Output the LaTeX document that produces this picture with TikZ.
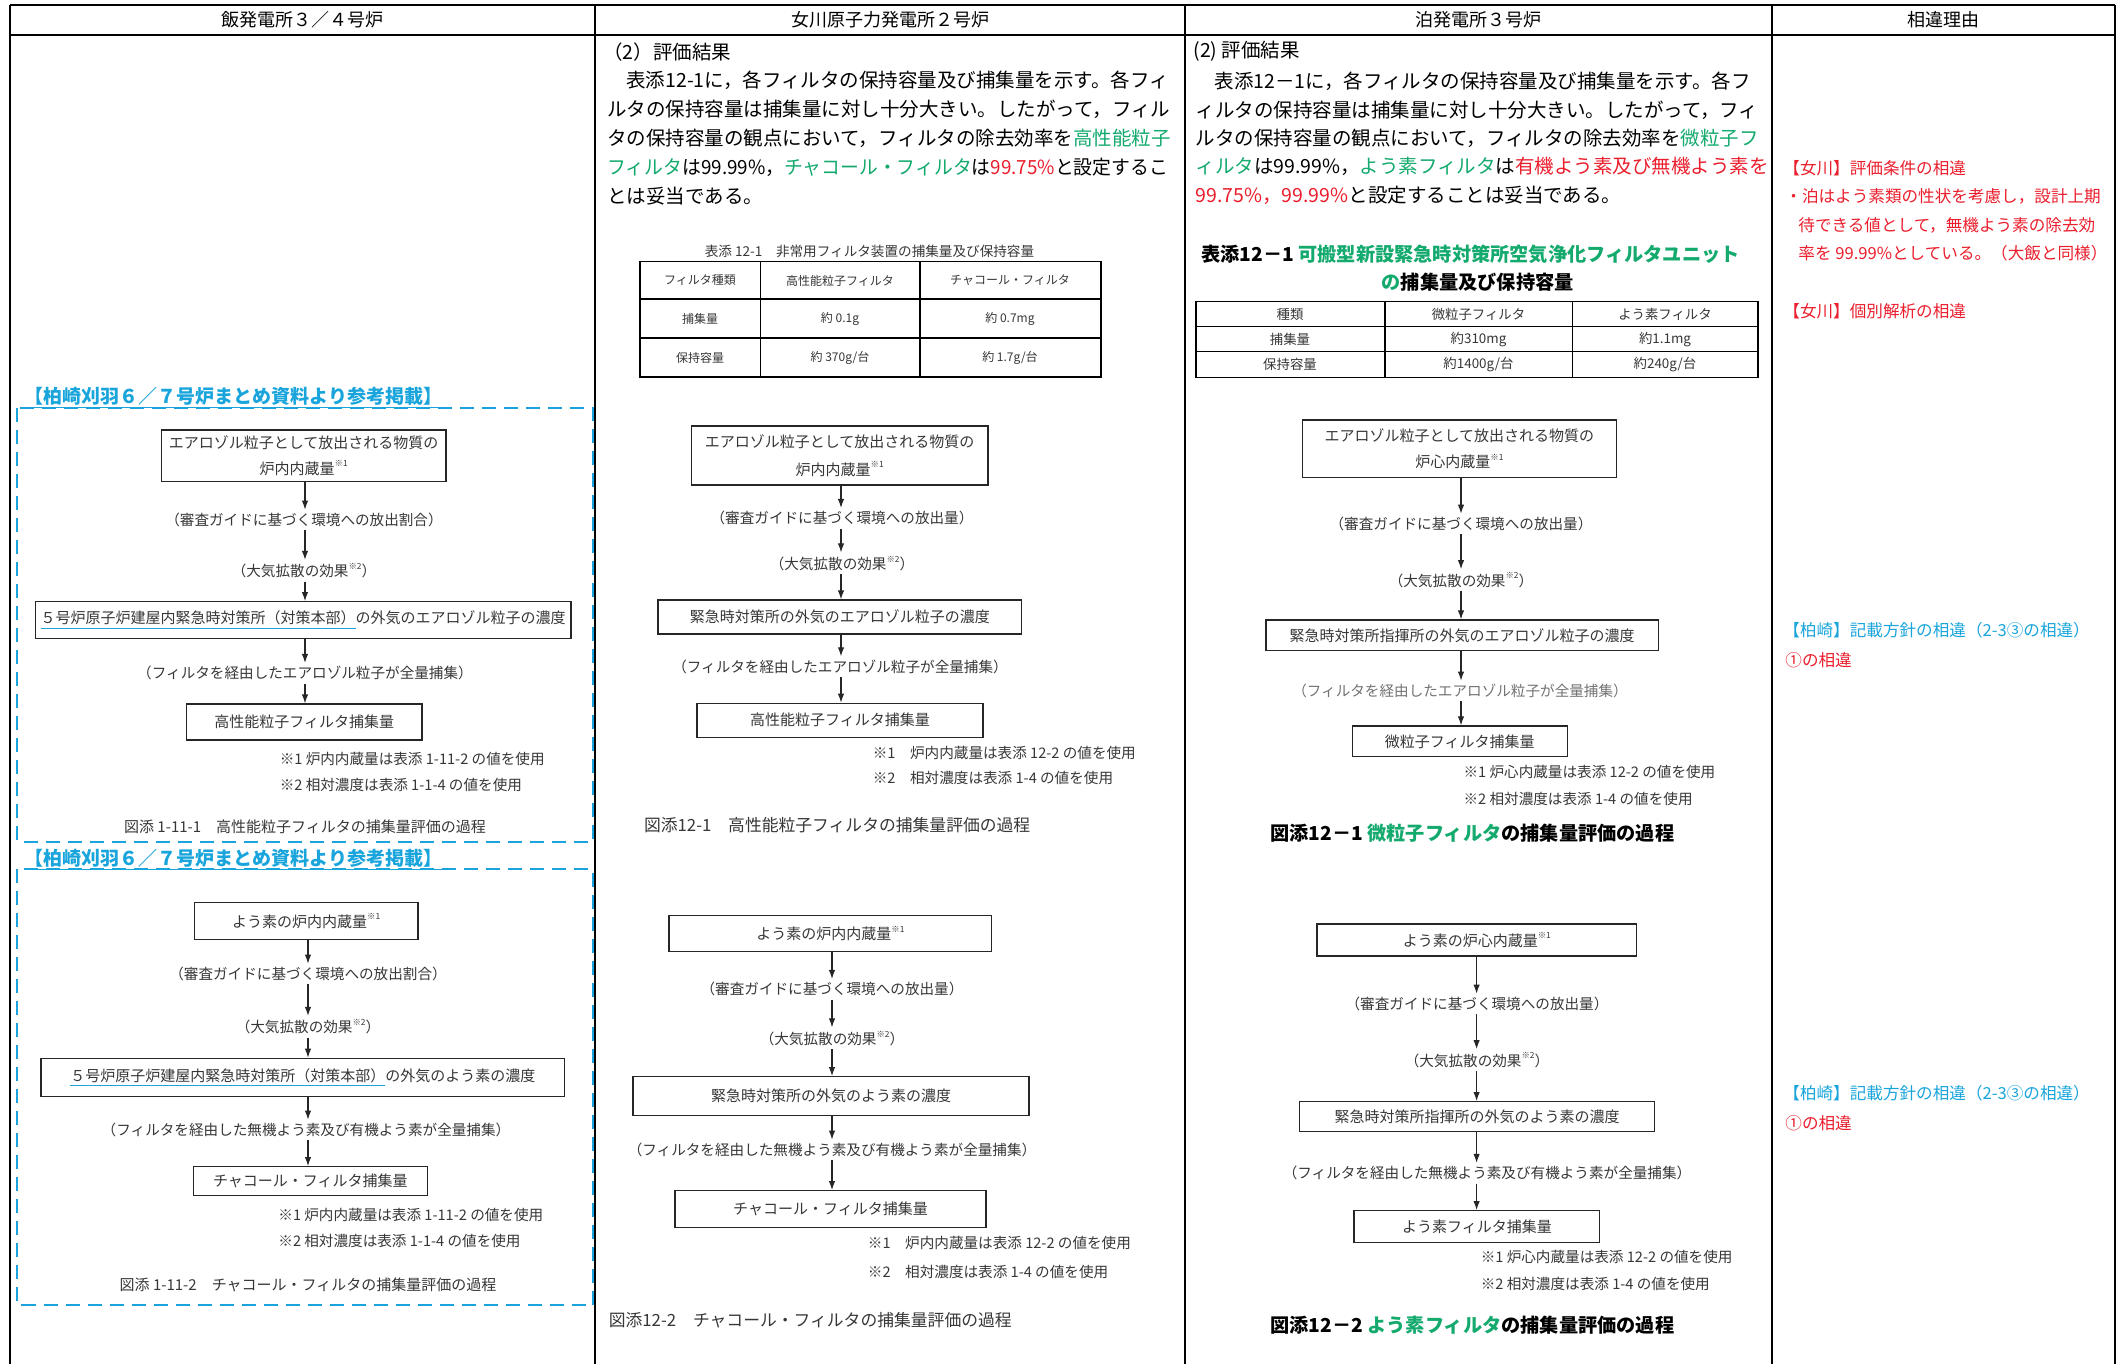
\documentclass[tikz,border=0pt]{standalone}
\usepackage{fontspec}
\usepackage{graphicx}
\setmainfont{Noto Sans CJK JP}
\usetikzlibrary{arrows.meta}
\definecolor{kgreen}{RGB}{20,170,110}
\definecolor{kred}{RGB}{235,30,45}
\definecolor{kcyan}{RGB}{25,165,220}
\definecolor{kgray}{RGB}{55,55,55}
\newcommand\fsz[1]{\fontsize{#1}{#1}\selectfont}
\newcommand\sups[1]{\raisebox{0.5em}{\fontsize{4.2}{4.2}\selectfont #1}}
\newcommand\kul[1]{\textcolor{kcyan}{\underline{\textcolor{kgray}{#1}}}}
\tikzset{
  tline/.style={line width=1pt, black},
  fbox/.style={draw=black!85, line width=0.6pt, inner sep=0pt, font=\fsz{7.5}, text=kgray},
  fbox2/.style={fbox, align=center, font=\fontsize{7.5}{12.8}\selectfont},
  lab/.style={inner sep=1.5pt, font=\fsz{7.3}, text=kgray},
  arr/.style={-{Latex[length=4.5pt,width=3.2pt]}, line width=0.55pt, black!85},
  para/.style={anchor=west, inner sep=0pt, font=\fsz{9.75}},
  note/.style={anchor=west, inner sep=0pt, font=\fsz{7.3}, text=kgray},
  figcap/.style={inner sep=0pt, font=\fsz{7.5}, text=kgray},
  hdr/.style={inner sep=0pt, font=\fsz{9}},
  cell/.style={inner sep=0pt, font=\fsz{6}, text=kgray},
  rem/.style={anchor=west, inner sep=0pt, font=\fsz{8.3}},
  ktitle/.style={anchor=west, inner sep=0pt, font=\bfseries\fsz{9.5}, text=kcyan},
  dbox/.style={draw=kcyan, line width=1.1pt, dash pattern=on 7pt off 4pt},
}
\begin{document}
\begin{tikzpicture}[x=0.5pt,y=-0.5pt]
\fill[white] (0,0) rectangle (2121,1364);
\useasboundingbox (0,0) rectangle (2121,1364);
% ---------- table frame ----------
\draw[tline] (9.5,5) -- (2115,5);
\draw[line width=1.3pt] (9.5,35) -- (2115,35);
\foreach \x in {9.5,595,1185,1772,2115} \draw[tline] (\x,5) -- (\x,1364);
\node[hdr] (h1) at (302,20) {飯発電所３／４号炉};
\node[hdr] (h2) at (890,20) {女川原子力発電所２号炉};
\node[hdr] (h3) at (1478.5,20) {泊発電所３号炉};
\node[hdr] (h4) at (1943.5,20) {相違理由};

% =============== Column 1 ===============
\node[ktitle] (t1) at (24,398) {\underline{【柏崎刈羽６／７号炉まとめ資料より参考掲載】}};
\draw[dbox] (17.2,408.3) rectangle (593,841.7);
\coordinate (ax1) at (305,0);
\node[fbox2, minimum width=142.2pt, minimum height=25.9pt] (a1) at (303.7,455.9) {エアロゾル粒子として放出される物質の\\炉内内蔵量\sups{※1}};
\node[lab] (a1l1) at (304,520) {（審査ガイドに基づく環境への放出割合）};
\node[lab] (a1l2) at (304,570.7) {（大気拡散の効果\sups{※2}）};
\node[fbox, minimum width=267.9pt, minimum height=18.3pt] (b1) at (303.1,620) {\kul{５号炉原子炉建屋内緊急時対策所（対策本部）}の外気のエアロゾル粒子の濃度};
\node[lab] (b1l) at (305,673.3) {（フィルタを経由したエアロゾル粒子が全量捕集）};
\node[fbox, minimum width=117.8pt, minimum height=18pt] (c1) at (304.2,722) {高性能粒子フィルタ捕集量};
\node[note] (n1a) at (279.4,759.3) {※1 炉内内蔵量は表添 1-11-2 の値を使用};
\node[note] (n1b) at (279.4,785) {※2 相対濃度は表添 1-1-4 の値を使用};
\node[figcap] (cap1) at (305,826.7) {図添 1-11-1\quad 高性能粒子フィルタの捕集量評価の過程};
\draw[arr] (a1.south -| ax1) -- (a1l1.north -| ax1);
\draw[arr] (a1l1.south -| ax1) -- (a1l2.north -| ax1);
\draw[arr] (a1l2.south -| ax1) -- (b1.north -| ax1);
\draw[arr] (b1.south -| ax1) -- (b1l.north -| ax1);
\draw[arr] (b1l.south -| ax1) -- (c1.north -| ax1);

\node[ktitle] (t2) at (24,860) {\underline{【柏崎刈羽６／７号炉まとめ資料より参考掲載】}};
\draw[dbox] (17.2,869.3) rectangle (593,1305);
\coordinate (ax2) at (308,0);
\node[fbox, minimum width=111.8pt, minimum height=18.3pt] (a2) at (306.2,921) {よう素の炉内内蔵量\sups{※1}};
\node[lab] (a2l1) at (308,974) {（審査ガイドに基づく環境への放出割合）};
\node[lab] (a2l2) at (308,1026.7) {（大気拡散の効果\sups{※2}）};
\node[fbox, minimum width=261.8pt, minimum height=19.2pt] (b2) at (302.8,1077.5) {\kul{５号炉原子炉建屋内緊急時対策所（対策本部）}の外気のよう素の濃度};
\node[lab] (b2l) at (306,1130) {（フィルタを経由した無機よう素及び有機よう素が全量捕集）};
\node[fbox, minimum width=117.2pt, minimum height=14.2pt] (c2) at (310.3,1180.9) {チャコール・フィルタ捕集量};
\node[note] (n2a) at (278,1215) {※1 炉内内蔵量は表添 1-11-2 の値を使用};
\node[note] (n2b) at (278,1240.7) {※2 相対濃度は表添 1-1-4 の値を使用};
\node[figcap] (cap2) at (308,1285) {図添 1-11-2\quad チャコール・フィルタの捕集量評価の過程};
\draw[arr] (a2.south -| ax2) -- (a2l1.north -| ax2);
\draw[arr] (a2l1.south -| ax2) -- (a2l2.north -| ax2);
\draw[arr] (a2l2.south -| ax2) -- (b2.north -| ax2);
\draw[arr] (b2.south -| ax2) -- (b2l.north -| ax2);
\draw[arr] (b2l.south -| ax2) -- (c2.north -| ax2);

% =============== Column 2 ===============
\node[para] (p2h) at (603,51.7) {（2）評価結果};
\node[para] (p21) at (626,80) {表添12-1に，各フィルタの保持容量及び捕集量を示す。各フィ};
\node[para] (p22) at (607,109.3) {ルタの保持容量は捕集量に対し十分大きい。したがって，フィル};
\node[para] (p23) at (607,138.3) {タの保持容量の観点において，フィルタの除去効率を\textcolor{kgreen}{高性能粒子}};
\node[para] (p24) at (607,167.3) {\scalebox{0.965}[1]{\textcolor{kgreen}{フィルタ}は99.99\%，\textcolor{kgreen}{チャコール・フィルタ}は\textcolor{kred}{99.75\%}と設定するこ}};
\node[para] (p25) at (607,195.7) {とは妥当である。};
\node[figcap, font=\fsz{6.8}] (tc2) at (869.5,251.7) {表添 12-1\quad 非常用フィルタ装置の捕集量及び保持容量};
\draw[line width=0.8pt] (639.8,261.7) rectangle (1100.9,376.7);
\draw[line width=0.8pt] (639.8,299.3) -- (1100.9,299.3) (639.8,338.3) -- (1100.9,338.3)
  (760.3,261.7) -- (760.3,376.7) (919.9,261.7) -- (919.9,376.7);
\node[cell] (c2r1a) at (700,280.5) {フィルタ種類};
\node[cell] (c2r1b) at (840,280.5) {高性能粒子フィルタ};
\node[cell] (c2r1c) at (1010,280.5) {チャコール・フィルタ};
\node[cell] (c2r2a) at (700,318.8) {捕集量};
\node[cell] (c2r2b) at (840,318.8) {約 0.1g};
\node[cell] (c2r2c) at (1010,318.8) {約 0.7mg};
\node[cell] (c2r3a) at (700,357.5) {保持容量};
\node[cell] (c2r3b) at (840,357.5) {約 370g/台};
\node[cell] (c2r3c) at (1010,357.5) {約 1.7g/台};

\coordinate (ax3) at (841,0);
\node[fbox2, minimum width=148.3pt, minimum height=29.5pt, font=\fontsize{7.5}{14.2}\selectfont] (a3) at (839.7,455.5) {エアロゾル粒子として放出される物質の\\炉内内蔵量\sups{※1}};
\node[lab] (a3l1) at (842,518.3) {（審査ガイドに基づく環境への放出量）};
\node[lab] (a3l2) at (842,563.3) {（大気拡散の効果\sups{※2}）};
\node[fbox, minimum width=181.9pt, minimum height=17pt] (b3) at (839.9,617) {緊急時対策所の外気のエアロゾル粒子の濃度};
\node[lab] (b3l) at (840,666.7) {（フィルタを経由したエアロゾル粒子が全量捕集）};
\node[fbox, minimum width=143pt, minimum height=17pt] (c3) at (840,720.3) {高性能粒子フィルタ捕集量};
\node[note] (n3a) at (872.4,752.7) {※1\quad 炉内内蔵量は表添 12-2 の値を使用};
\node[note] (n3b) at (872.4,778.3) {※2\quad 相対濃度は表添 1-4 の値を使用};
\node[figcap, anchor=west, font=\fsz{8.4}] (cap3) at (643.6,825) {図添12-1\quad 高性能粒子フィルタの捕集量評価の過程};
\draw[arr] (a3.south -| ax3) -- (a3l1.north -| ax3);
\draw[arr] (a3l1.south -| ax3) -- (a3l2.north -| ax3);
\draw[arr] (a3l2.south -| ax3) -- (b3.north -| ax3);
\draw[arr] (b3.south -| ax3) -- (b3l.north -| ax3);
\draw[arr] (b3l.south -| ax3) -- (c3.north -| ax3);

\coordinate (ax4) at (832,0);
\node[fbox, minimum width=161.4pt, minimum height=18pt] (a4) at (830.4,933.7) {よう素の炉内内蔵量\sups{※1}};
\node[lab] (a4l1) at (832,989.3) {（審査ガイドに基づく環境への放出量）};
\node[lab] (a4l2) at (832,1038.3) {（大気拡散の効果\sups{※2}）};
\node[fbox, minimum width=198pt, minimum height=19.2pt] (b4) at (831,1095.9) {緊急時対策所の外気のよう素の濃度};
\node[lab] (b4l) at (832,1150) {（フィルタを経由した無機よう素及び有機よう素が全量捕集）};
\node[fbox, minimum width=155.5pt, minimum height=18.5pt] (c4) at (830.5,1209.2) {チャコール・フィルタ捕集量};
\node[note] (n4a) at (867.5,1243.3) {※1\quad 炉内内蔵量は表添 12-2 の値を使用};
\node[note] (n4b) at (867.5,1271.7) {※2\quad 相対濃度は表添 1-4 の値を使用};
\node[figcap, anchor=west, font=\fsz{8.4}] (cap4) at (608.4,1320) {図添12-2\quad チャコール・フィルタの捕集量評価の過程};
\draw[arr] (a4.south -| ax4) -- (a4l1.north -| ax4);
\draw[arr] (a4l1.south -| ax4) -- (a4l2.north -| ax4);
\draw[arr] (a4l2.south -| ax4) -- (b4.north -| ax4);
\draw[arr] (b4.south -| ax4) -- (b4l.north -| ax4);
\draw[arr] (b4l.south -| ax4) -- (c4.north -| ax4);

% =============== Column 3 ===============
\node[para] (p3h) at (1193,51.7) {(2) 評価結果};
\node[para] (p31) at (1214.4,81.7) {表添12－1に，各フィルタの保持容量及び捕集量を示す。各フ};
\node[para] (p32) at (1195.3,110) {ィルタの保持容量は捕集量に対し十分大きい。したがって，フィ};
\node[para] (p33) at (1195.3,138.3) {ルタの保持容量の観点において，フィルタの除去効率を\textcolor{kgreen}{微粒子フ}};
\node[para] (p34) at (1195.3,166.7) {\textcolor{kgreen}{ィルタ}は99.99\%，\textcolor{kgreen}{よう素フィルタ}は\textcolor{kred}{有機よう素及び無機よう素を}};
\node[para] (p35) at (1195.3,195) {\textcolor{kred}{99.75\%，99.99\%}と設定することは妥当である。};
\node[para, font=\bfseries\fsz{9.6}] (tc3a) at (1201,254) {表添12－1 \textcolor{kgreen}{可搬型新設緊急時対策所空気浄化フィルタユニット}};
\node[inner sep=0pt, font=\bfseries\fsz{9.6}] (tc3b) at (1477.7,282.3) {\textcolor{kgreen}{の}捕集量及び保持容量};
\draw[line width=0.8pt] (1196,301.7) rectangle (1757.9,377.3);
\draw[line width=0.8pt] (1196,326.7) -- (1757.9,326.7) (1196,351.7) -- (1757.9,351.7)
  (1384.7,301.7) -- (1384.7,377.3) (1572.3,301.7) -- (1572.3,377.3);
\node[cell, font=\fsz{6.7}] (c3r1a) at (1290,314.2) {種類};
\node[cell, font=\fsz{6.7}] (c3r1b) at (1478.5,314.2) {微粒子フィルタ};
\node[cell, font=\fsz{6.7}] (c3r1c) at (1665,314.2) {よう素フィルタ};
\node[cell, font=\fsz{6.7}] (c3r2a) at (1290,339.2) {捕集量};
\node[cell, font=\fsz{6.7}] (c3r2b) at (1478.5,339.2) {約310mg};
\node[cell, font=\fsz{6.7}] (c3r2c) at (1665,339.2) {約1.1mg};
\node[cell, font=\fsz{6.7}] (c3r3a) at (1290,364.5) {保持容量};
\node[cell, font=\fsz{6.7}] (c3r3b) at (1478.5,364.5) {約1400g/台};
\node[cell, font=\fsz{6.7}] (c3r3c) at (1665,364.5) {約240g/台};

\coordinate (ax5) at (1461,0);
\node[fbox2, minimum width=156.9pt, minimum height=28.7pt, font=\fontsize{7.5}{13.3}\selectfont] (a5) at (1459.4,448.7) {エアロゾル粒子として放出される物質の\\炉心内蔵量\sups{※1}};
\node[lab] (a5l1) at (1461,524) {（審査ガイドに基づく環境への放出量）};
\node[lab] (a5l2) at (1461,580) {（大気拡散の効果\sups{※2}）};
\node[fbox, minimum width=196.2pt, minimum height=15.4pt] (b5) at (1462.2,635.4) {緊急時対策所指揮所の外気のエアロゾル粒子の濃度};
\node[lab, text=black!55] (b5l) at (1460,691) {（フィルタを経由したエアロゾル粒子が全量捕集）};
\node[fbox, minimum width=107.6pt, minimum height=15.4pt] (c5) at (1459.8,741.4) {微粒子フィルタ捕集量};
\node[note] (n5a) at (1463.2,771.7) {※1 炉心内蔵量は表添 12-2 の値を使用};
\node[note] (n5b) at (1463.2,799) {※2 相対濃度は表添 1-4 の値を使用};
\node[figcap, anchor=west, font=\bfseries\fsz{9.6}, text=black] (cap5) at (1270,833.3) {図添12－1 \textcolor{kgreen}{微粒子フィルタ}の捕集量評価の過程};
\draw[arr] (a5.south -| ax5) -- (a5l1.north -| ax5);
\draw[arr] (a5l1.south -| ax5) -- (a5l2.north -| ax5);
\draw[arr] (a5l2.south -| ax5) -- (b5.north -| ax5);
\draw[arr] (b5.south -| ax5) -- (b5l.north -| ax5);
\draw[arr] (b5l.south -| ax5) -- (c5.north -| ax5);

\coordinate (ax6) at (1476.6,0);
\node[fbox, minimum width=159.8pt, minimum height=16pt] (a6) at (1476.8,940) {よう素の炉心内蔵量\sups{※1}};
\node[lab] (a6l1) at (1477,1004) {（審査ガイドに基づく環境への放出量）};
\node[lab] (a6l2) at (1477,1060) {（大気拡散の効果\sups{※2}）};
\node[fbox, minimum width=177.6pt, minimum height=15pt] (b6) at (1477,1116.7) {緊急時対策所指揮所の外気のよう素の濃度};
\node[lab] (b6l) at (1487,1173.3) {（フィルタを経由した無機よう素及び有機よう素が全量捕集）};
\node[fbox, minimum width=122.9pt, minimum height=16pt] (c6) at (1476.9,1226.7) {よう素フィルタ捕集量};
\node[note] (n6a) at (1480.4,1257.3) {※1 炉心内蔵量は表添 12-2 の値を使用};
\node[note] (n6b) at (1480.4,1284.3) {※2 相対濃度は表添 1-4 の値を使用};
\node[figcap, anchor=west, font=\bfseries\fsz{9.6}, text=black] (cap6) at (1270,1325) {図添12－2 \textcolor{kgreen}{よう素フィルタ}の捕集量評価の過程};
\draw[arr] (a6.south -| ax6) -- (a6l1.north -| ax6);
\draw[arr] (a6l1.south -| ax6) -- (a6l2.north -| ax6);
\draw[arr] (a6l2.south -| ax6) -- (b6.north -| ax6);
\draw[arr] (b6.south -| ax6) -- (b6l.north -| ax6);
\draw[arr] (b6l.south -| ax6) -- (c6.north -| ax6);

% =============== Column 4 ===============
\node[rem, text=kred] (r1) at (1783,168.3) {【女川】評価条件の相違};
\node[rem, text=kred] (r2) at (1785,196.7) {・泊はよう素類の性状を考慮し，設計上期};
\node[rem, text=kred] (r3) at (1798,225) {待できる値として，無機よう素の除去効};
\node[rem, text=kred] (r4) at (1798,252.7) {率を 99.99\%としている。（大飯と同様）};
\node[rem, text=kred] (r5) at (1783,311.7) {【女川】個別解析の相違};
\node[rem, text=kcyan] (r6) at (1783,630.4) {【柏崎】記載方針の相違（2-3③の相違）};
\node[rem, text=kred] (r7) at (1785,660.2) {①の相違};
\node[rem, text=kcyan] (r8) at (1783,1093) {【柏崎】記載方針の相違（2-3③の相違）};
\node[rem, text=kred] (r9) at (1785,1123) {①の相違};
\end{tikzpicture}
\end{document}
